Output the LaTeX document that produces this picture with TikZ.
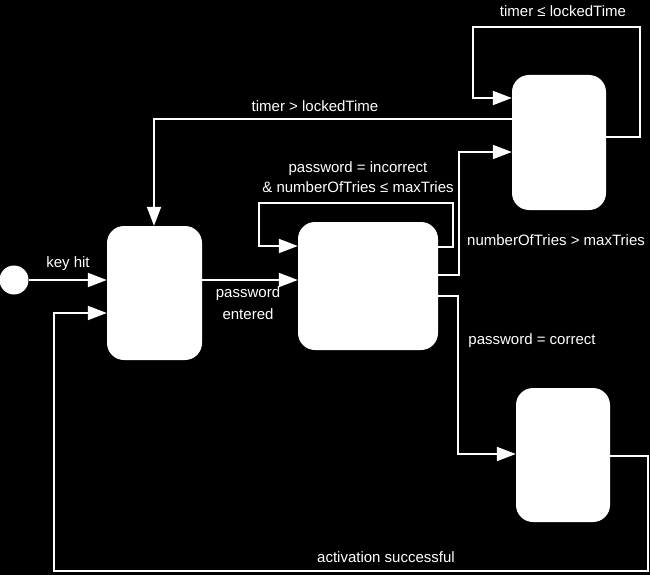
\documentclass[tikz,border=0pt]{standalone}
\usepackage{fontspec}
\setmainfont{Liberation Sans}
\usetikzlibrary{arrows.meta}
\begin{document}
\begin{tikzpicture}[x=1pt,y=-1pt,
  statebox/.style={draw=none,fill=white,rounded corners=17pt,inner sep=0pt},
  wire/.style={draw=white,line width=2pt},
  arr/.style={wire,-{Triangle[length=19pt,width=14pt]}},
  lbl/.style={text=white,font=\fontsize{15}{20}\selectfont,inner sep=0pt,align=center}]
\useasboundingbox[fill=black] (0,0) rectangle (650,575);
% states
\node[circle,fill=white,minimum size=29pt,inner sep=0pt] (init) at (14,280) {};
\node[statebox,minimum width=95pt,minimum height=134pt] (A) at (154.5,293) {};
\node[statebox,minimum width=140pt,minimum height=128pt] (B) at (368,286) {};
\node[statebox,minimum width=94pt,minimum height=135pt] (C) at (559,142.5) {};
\node[statebox,minimum width=94pt,minimum height=134pt] (D) at (563,455) {};
% bend points
\coordinate (b1) at (453,203);
\coordinate (b2) at (259,203);
\coordinate (n1) at (459,275);
\coordinate (n2) at (459,152);
\coordinate (t1) at (154,119);
\coordinate (c1) at (640,27);
\coordinate (c2) at (473,27);
\coordinate (p1) at (458,296);
\coordinate (p2) at (458,454);
\coordinate (s1) at (648,456);
\coordinate (s2) at (648,571);
\coordinate (s3) at (54,571);
\coordinate (s4) at (54,313);
% transitions
\draw[arr] (init.east) -- (init -| A.west);
\draw[arr] (init -| A.east) -- (init -| B.west);
\draw[arr] (B.east |- 0,247) -| (b1) -- (b2) |- (B.west |- 0,246);
\draw[arr] (B.east |- n1) -- (n1) -- (n2) -- (n2 -| C.west);
\draw[arr] (C.west |- t1) -- (t1) -- (A.north -| t1);
\draw[arr] (C.east |- 0,137) -| (c1) -- (c2) |- (C.west |- 0,98);
\draw[arr] (B.east |- p1) -- (p1) -- (p2) -- (p2 -| D.west);
\draw[arr] (D.east |- s1) -- (s1) -- (s2) -- (s3) -- (s4) -- (s4 -| A.west);
% labels
\node[lbl] (lkey) at (68,264) {key hit};
\node[lbl] (lpe) at (248,303) {password\\[2pt]entered};
\node[lbl] (linc) at (358,177) {password = incorrect\\[0pt]\& numberOfTries ≤ maxTries};
\node[lbl] (ltg) at (315,106) {timer > lockedTime};
\node[lbl] (ltl) at (563,11) {timer ≤ lockedTime};
\node[lbl] (lnt) at (556,240) {numberOfTries > maxTries};
\node[lbl] (lpc) at (532,341) {password = correct};
\node[lbl] (las) at (386,557) {activation successful};
\end{tikzpicture}
\end{document}
